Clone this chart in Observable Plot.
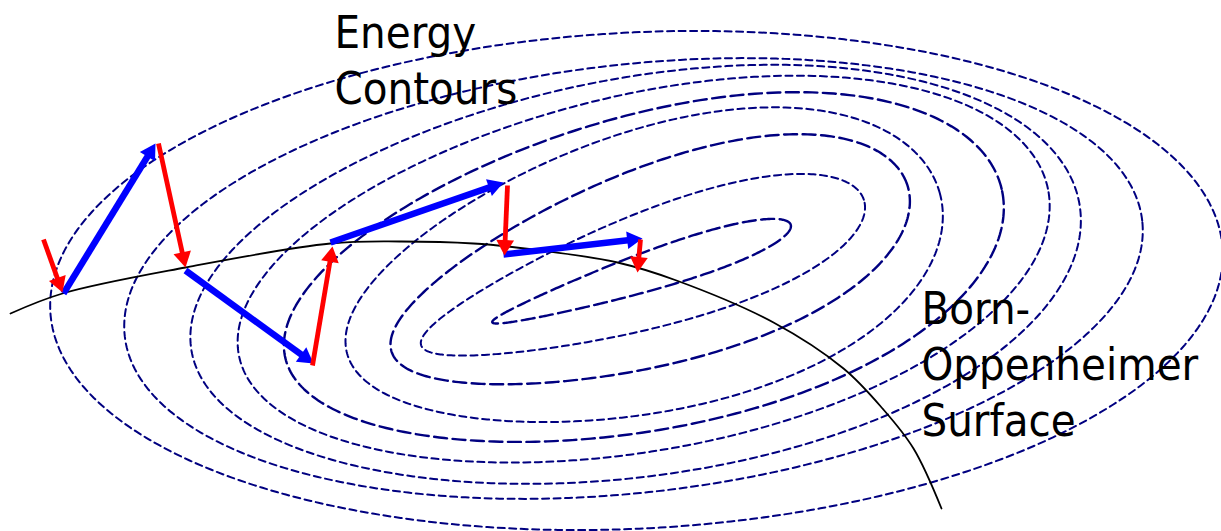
<!DOCTYPE html>
<html><head><meta charset="utf-8">
<script src="https://cdn.jsdelivr.net/npm/d3@7"></script>
<script src="https://cdn.jsdelivr.net/npm/@observablehq/plot@0.6"></script>
<style>
html,body{margin:0;padding:0;background:#fff;}
#chart svg{display:block;}
</style></head><body><div id="chart"></div>
<script>
// ---- Energy contours (outer -> inner) ----
const contourCx   = [636, 633, 635, 643, 643, 643, 649, 642, 641];
const contourCy   = [280, 278, 277, 272, 273, 273, 268, 272, 273];
const contourA    = [587, 512, 450, 413, 368, 307, 271, 233, 157];
const contourB    = [248, 214, 199, 178, 157, 140, 98, 57, 19];
const contourTilt = [3, 6.5, 9.3, 11.7, 13.3, 15.1, 17.9, 18.2, 18.1];
const contourEgg  = [0, 0, 0.05, 0.05, 0.1, 0.15, 0.2, 0.3, 0.4];
const contourDash = ["short","short","short","short","long","short","long","short","long"];

// ---- Born-Oppenheimer surface (black curve) ----
const bornX = [10, 62, 185, 330, 400, 473, 533, 617, 676, 773, 843, 882, 913, 941];
const bornY = [313, 293, 267, 243, 241, 243, 249, 262, 280, 322, 368, 408, 448, 508];

// ---- Red steps ----
const redX1 = [43, 158, 312, 507, 640];
const redY1 = [239, 143, 365, 185, 239];
const redX2 = [62, 185, 332, 504, 637];
const redY2 = [292, 267, 246, 255, 272];

// ---- Blue steps ----
const blueX1 = [63, 185, 330, 503];
const blueY1 = [293, 270, 242, 254];
const blueX2 = [155, 313, 503, 642];
const blueY2 = [143, 363, 182, 238];

// ---- Labels ----
const labelText = ["Energy\nContours", "Born-\nOppenheimer\nSurface"];
const labelX = [334, 921];
const labelY = [103, 435];

const W = 1221, H = 531;

// contour paths from the ellipse parameters
const contourRows = [];
contourCx.forEach((cx, i) => {
  const th = contourTilt[i] * Math.PI / 180, a = contourA[i], b = contourB[i], k = contourEgg[i];
  const n = 360;
  for (let j = 0; j <= n; j++) {
    const t = j / n * 2 * Math.PI;
    const xp = a * Math.cos(t);
    const yp = b * Math.sin(t) * (1 + k * Math.cos(t));
    contourRows.push({
      id: i, dash: contourDash[i],
      x: cx + xp * Math.cos(th) - yp * Math.sin(th),
      y: contourCy[i] - (xp * Math.sin(th) + yp * Math.cos(th))
    });
  }
});

const bornRows = bornX.map((x, i) => ({x, y: bornY[i]}));

const HEAD_R = 6.6;
function arrowRows(x1, y1, x2, y2) {
  return x1.map((_, i) => {
    const dx = x2[i] - x1[i], dy = y2[i] - y1[i], L = Math.hypot(dx, dy);
    const off = 1.555 * HEAD_R;
    return {x1: x1[i], y1: y1[i], hx: x2[i] - dx / L * off, hy: y2[i] - dy / L * off,
            angle: Math.atan2(dx, -dy) * 180 / Math.PI};
  });
}
const red = arrowRows(redX1, redY1, redX2, redY2);
const blue = arrowRows(blueX1, blueY1, blueX2, blueY2);
const labels = labelText.map((t, i) => ({t, x: labelX[i], y: labelY[i]}));

const chart = Plot.plot({
  width: W, height: H,
  marginTop: 0, marginRight: 0, marginBottom: 0, marginLeft: 0,
  x: {domain: [0, W], axis: null},
  y: {domain: [0, H], reverse: true, axis: null},
  style: {background: "#fff"},
  marks: [
    Plot.line(contourRows.filter(d => d.dash === "short"), {x: "x", y: "y", z: "id", stroke: "#000080", strokeWidth: 2, strokeDasharray: "7,4.5"}),
    Plot.line(contourRows.filter(d => d.dash === "long"), {x: "x", y: "y", z: "id", stroke: "#000080", strokeWidth: 2.4, strokeDasharray: "13,5.5"}),
    Plot.line(bornRows, {x: "x", y: "y", curve: "catmull-rom", stroke: "#000", strokeWidth: 1.8}),
    Plot.link(blue, {x1: "x1", y1: "y1", x2: "hx", y2: "hy", stroke: "#0000ff", strokeWidth: 6.5}),
    Plot.dot(blue, {x: "hx", y: "hy", r: HEAD_R, symbol: "triangle", rotate: "angle", fill: "#0000ff", stroke: "none"}),
    Plot.link(red, {x1: "x1", y1: "y1", x2: "hx", y2: "hy", stroke: "#ff0000", strokeWidth: 4.8}),
    Plot.dot(red, {x: "hx", y: "hy", r: HEAD_R, symbol: "triangle", rotate: "angle", fill: "#ff0000", stroke: "none"}),
    Plot.text(labels, {x: "x", y: "y", text: "t", textAnchor: "start", lineAnchor: "bottom", lineHeight: 1.24,
      fontSize: 45, fontFamily: "'DejaVu Sans Condensed', 'DejaVu Sans', sans-serif", fill: "#000"})
  ]
});
document.getElementById("chart").appendChild(chart);
</script></body></html>
